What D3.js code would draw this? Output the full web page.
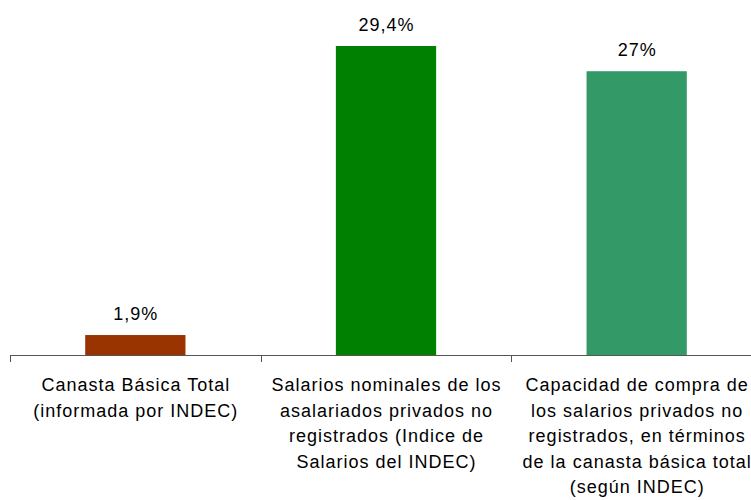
<!DOCTYPE html>
<html>
<head>
<meta charset="utf-8">
<script src="https://cdn.jsdelivr.net/npm/d3@7"></script>
<style>
  body { margin: 0; background: #fff; }
  svg { display: block; }
</style>
</head>
<body>
<svg id="chart" width="751" height="500"></svg>
<script>
// categories, split into the lines used for the axis labels
const categories = ['cbt', 'salarios', 'capacidad'];
const catLines = [
  ['Canasta Básica Total', '(informada por INDEC)'],
  ['Salarios nominales de los', 'asalariados privados no', 'registrados (Indice de', 'Salarios del INDEC)'],
  ['Capacidad de compra de', 'los salarios privados no', 'registrados, en términos', 'de la canasta básica total', '(según INDEC)']
];
const values = [1.9, 29.4, 27];
const valueLabels = ['1,9%', '29,4%', '27%'];
const barColors = ['#993300', '#008000', '#339966'];

const svg = d3.select('#chart');
const baseY = 355;
const font = 'Liberation Sans, Arial, sans-serif';

const x = d3.scaleBand()
  .domain(categories)
  .range([10, 762])
  .paddingInner(0.6)
  .paddingOuter(0.3);

const y = d3.scaleLinear()
  .domain([0, 29.4])
  .range([baseY, 46]);

const step = x.step();

// bars
svg.selectAll('rect.bar')
  .data(values)
  .join('rect')
  .attr('class', 'bar')
  .attr('x', (d, i) => x(categories[i]))
  .attr('y', d => y(d))
  .attr('width', x.bandwidth())
  .attr('height', d => baseY - y(d))
  .style('fill', (d, i) => barColors[i]);

// value labels
svg.selectAll('text.val')
  .data(values)
  .join('text')
  .attr('class', 'val')
  .attr('x', (d, i) => x(categories[i]) + x.bandwidth() / 2 + 0.5)
  .attr('y', d => y(d) - 15)
  .attr('text-anchor', 'middle')
  .text((d, i) => valueLabels[i])
  .style('font-family', font)
  .style('font-size', '18px')
  .style('letter-spacing', '1px')
  .style('fill', '#000');

// axis line and category boundary ticks
const axisColor = '#555';
svg.append('line')
  .attr('x1', 10).attr('x2', 762)
  .attr('y1', baseY + 0.5).attr('y2', baseY + 0.5)
  .style('stroke', axisColor)
  .style('stroke-width', 1);

const bounds = categories.map(c => x(c) - step * x.paddingOuter()).concat([x.range()[1]]);
svg.selectAll('line.tick')
  .data(bounds)
  .join('line')
  .attr('class', 'tick')
  .attr('x1', d => Math.round(d) + 0.5).attr('x2', d => Math.round(d) + 0.5)
  .attr('y1', baseY).attr('y2', baseY + 7)
  .style('stroke', axisColor)
  .style('stroke-width', 1);

// category labels
const labelGroups = svg.selectAll('text.cat')
  .data(catLines)
  .join('text')
  .attr('class', 'cat')
  .attr('text-anchor', 'middle')
  .style('font-family', font)
  .style('font-size', '18px')
  .style('letter-spacing', '1px')
  .style('fill', '#000');

labelGroups.selectAll('tspan')
  .data((d, i) => d.map(line => ({ line, i })))
  .join('tspan')
  .attr('x', d => x(categories[d.i]) + x.bandwidth() / 2 + 0.5)
  .attr('y', (d, j) => 391 + j * 25.5)
  .text(d => d.line);
</script>
</body>
</html>
